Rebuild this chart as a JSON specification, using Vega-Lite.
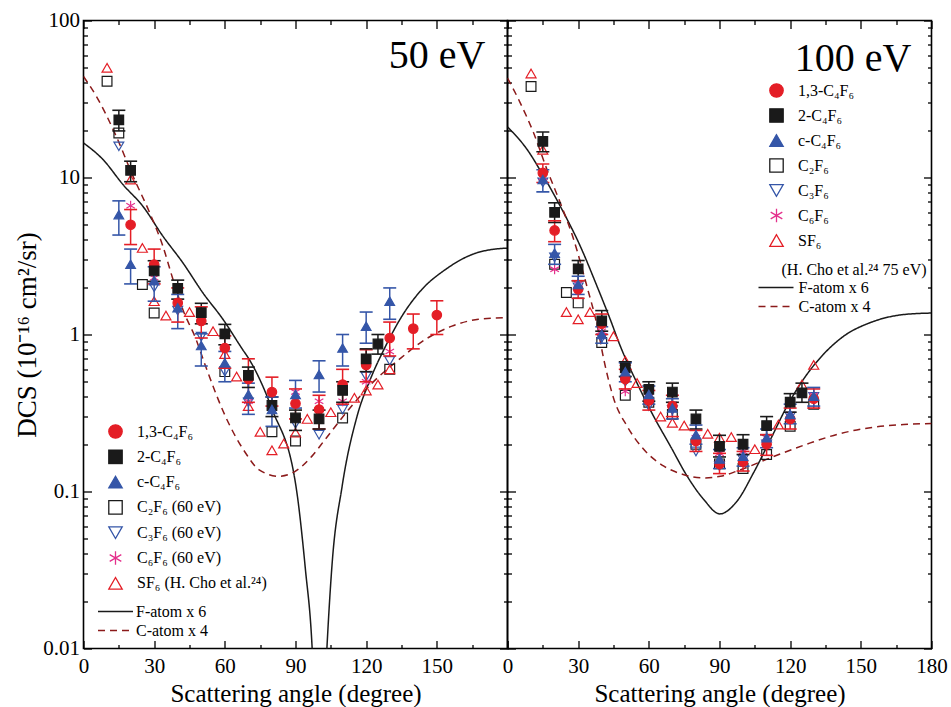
{
"$schema": "https://vega.github.io/schema/vega-lite/v6.json",
"padding": {"left": 12.5, "top": 8.5, "right": 5, "bottom": 0},
"background": "white",
"bounds": "flush",
"spacing": 0,
"datasets": {
"pts": [
{"p":"50","s":"C2F6","a":10,"v":41},{"p":"50","s":"C2F6","a":15,"v":19.2},{"p":"50","s":"C2F6","a":25,"v":2.08},{"p":"50","s":"C2F6","a":30,"v":1.37},{"p":"50","s":"C2F6","a":60,"v":0.58},{"p":"50","s":"C2F6","a":80,"v":0.24},{"p":"50","s":"C2F6","a":90,"v":0.21},{"p":"50","s":"C2F6","a":110,"v":0.294},{"p":"50","s":"C2F6","a":130,"v":0.6},
{"p":"50","s":"C3F6","a":15,"v":15.8},{"p":"50","s":"C3F6","a":30,"v":2.0},{"p":"50","s":"C3F6","a":40,"v":1.42},{"p":"50","s":"C3F6","a":50,"v":0.97},{"p":"50","s":"C3F6","a":60,"v":0.58},{"p":"50","s":"C3F6","a":70,"v":0.37},{"p":"50","s":"C3F6","a":90,"v":0.27},{"p":"50","s":"C3F6","a":100,"v":0.23},{"p":"50","s":"C3F6","a":110,"v":0.333},{"p":"50","s":"C3F6","a":120,"v":0.54},{"p":"50","s":"C3F6","a":130,"v":0.68},
{"p":"50","s":"C6F6","a":20,"v":6.6},{"p":"50","s":"C6F6","a":30,"v":2.3},{"p":"50","s":"C6F6","a":40,"v":1.9},{"p":"50","s":"C6F6","a":60,"v":0.82},{"p":"50","s":"C6F6","a":70,"v":0.376},{"p":"50","s":"C6F6","a":90,"v":0.43},{"p":"50","s":"C6F6","a":100,"v":0.376},{"p":"50","s":"C6F6","a":110,"v":0.376},{"p":"50","s":"C6F6","a":120,"v":0.5},{"p":"50","s":"C6F6","a":130,"v":0.78},
{"p":"50","s":"SF6","a":10,"v":50},{"p":"50","s":"SF6","a":20,"v":9.7},{"p":"50","s":"SF6","a":25,"v":3.56},{"p":"50","s":"SF6","a":30,"v":1.63},{"p":"50","s":"SF6","a":35,"v":1.32},{"p":"50","s":"SF6","a":45,"v":1.39},{"p":"50","s":"SF6","a":55,"v":1.05},{"p":"50","s":"SF6","a":60,"v":0.75},{"p":"50","s":"SF6","a":65,"v":0.54},{"p":"50","s":"SF6","a":70,"v":0.35},{"p":"50","s":"SF6","a":75,"v":0.24},{"p":"50","s":"SF6","a":80,"v":0.183},{"p":"50","s":"SF6","a":85,"v":0.202},{"p":"50","s":"SF6","a":90,"v":0.237},{"p":"50","s":"SF6","a":95,"v":0.29},{"p":"50","s":"SF6","a":105,"v":0.32},{"p":"50","s":"SF6","a":115,"v":0.395},{"p":"50","s":"SF6","a":120,"v":0.44},{"p":"50","s":"SF6","a":125,"v":0.48},{"p":"50","s":"SF6","a":130,"v":0.6},
{"p":"50","s":"1,3-C4F6","a":20,"v":5.0,"lo":3.74,"hi":6.25},{"p":"50","s":"1,3-C4F6","a":30,"v":2.79,"lo":2.1,"hi":3.5},{"p":"50","s":"1,3-C4F6","a":40,"v":1.59,"lo":1.2,"hi":1.98},{"p":"50","s":"1,3-C4F6","a":50,"v":1.22,"lo":0.95,"hi":1.5},{"p":"50","s":"1,3-C4F6","a":60,"v":0.82,"lo":0.61,"hi":0.98},{"p":"50","s":"1,3-C4F6","a":70,"v":0.52,"lo":0.37,"hi":0.7},{"p":"50","s":"1,3-C4F6","a":80,"v":0.43,"lo":0.35,"hi":0.535},{"p":"50","s":"1,3-C4F6","a":90,"v":0.364,"lo":0.29,"hi":0.45},{"p":"50","s":"1,3-C4F6","a":100,"v":0.333,"lo":0.25,"hi":0.41},{"p":"50","s":"1,3-C4F6","a":110,"v":0.48,"lo":0.36,"hi":0.6},{"p":"50","s":"1,3-C4F6","a":120,"v":0.64,"lo":0.5,"hi":0.8},{"p":"50","s":"1,3-C4F6","a":130,"v":0.95,"lo":0.73,"hi":1.2},{"p":"50","s":"1,3-C4F6","a":140,"v":1.09,"lo":0.81,"hi":1.35},{"p":"50","s":"1,3-C4F6","a":150,"v":1.33,"lo":1.0,"hi":1.64},
{"p":"50","s":"2-C4F6","a":15,"v":23.3,"lo":19.8,"hi":26.8},{"p":"50","s":"2-C4F6","a":20,"v":11.1,"lo":9.4,"hi":12.7},{"p":"50","s":"2-C4F6","a":30,"v":2.54,"lo":2.18,"hi":2.95},{"p":"50","s":"2-C4F6","a":40,"v":1.97,"lo":1.68,"hi":2.22},{"p":"50","s":"2-C4F6","a":50,"v":1.38,"lo":1.17,"hi":1.58},{"p":"50","s":"2-C4F6","a":60,"v":1.01,"lo":0.86,"hi":1.16},{"p":"50","s":"2-C4F6","a":70,"v":0.55,"lo":0.46,"hi":0.62},{"p":"50","s":"2-C4F6","a":80,"v":0.353,"lo":0.3,"hi":0.4},{"p":"50","s":"2-C4F6","a":90,"v":0.294,"lo":0.245,"hi":0.33},{"p":"50","s":"2-C4F6","a":100,"v":0.29,"lo":0.25,"hi":0.33},{"p":"50","s":"2-C4F6","a":110,"v":0.44,"lo":0.37,"hi":0.5},{"p":"50","s":"2-C4F6","a":120,"v":0.7,"lo":0.58,"hi":0.81},{"p":"50","s":"2-C4F6","a":125,"v":0.87,"lo":0.75,"hi":1.0},
{"p":"50","s":"c-C4F6","a":15,"v":5.8,"lo":4.3,"hi":7.1},{"p":"50","s":"c-C4F6","a":20,"v":2.8,"lo":2.1,"hi":3.5},{"p":"50","s":"c-C4F6","a":30,"v":2.2,"lo":1.63,"hi":2.7},{"p":"50","s":"c-C4F6","a":40,"v":1.48,"lo":1.09,"hi":1.8},{"p":"50","s":"c-C4F6","a":50,"v":0.85,"lo":0.63,"hi":1.01},{"p":"50","s":"c-C4F6","a":60,"v":0.66,"lo":0.5,"hi":0.78},{"p":"50","s":"c-C4F6","a":70,"v":0.415,"lo":0.31,"hi":0.49},{"p":"50","s":"c-C4F6","a":80,"v":0.333,"lo":0.26,"hi":0.4},{"p":"50","s":"c-C4F6","a":90,"v":0.415,"lo":0.34,"hi":0.51},{"p":"50","s":"c-C4F6","a":100,"v":0.556,"lo":0.43,"hi":0.68},{"p":"50","s":"c-C4F6","a":110,"v":0.82,"lo":0.63,"hi":1.0},{"p":"50","s":"c-C4F6","a":120,"v":1.13,"lo":0.88,"hi":1.39},{"p":"50","s":"c-C4F6","a":130,"v":1.63,"lo":1.25,"hi":1.98},
{"p":"100","s":"C2F6","a":10,"v":38},{"p":"100","s":"C2F6","a":20,"v":2.8},{"p":"100","s":"C2F6","a":25,"v":1.85},{"p":"100","s":"C2F6","a":30,"v":1.59},{"p":"100","s":"C2F6","a":40,"v":0.89},{"p":"100","s":"C2F6","a":50,"v":0.41},{"p":"100","s":"C2F6","a":60,"v":0.37},{"p":"100","s":"C2F6","a":70,"v":0.31},{"p":"100","s":"C2F6","a":80,"v":0.2},{"p":"100","s":"C2F6","a":90,"v":0.15},{"p":"100","s":"C2F6","a":100,"v":0.14},{"p":"100","s":"C2F6","a":110,"v":0.172},{"p":"100","s":"C2F6","a":120,"v":0.26},{"p":"100","s":"C2F6","a":130,"v":0.36},
{"p":"100","s":"C3F6","a":15,"v":9.3},{"p":"100","s":"C3F6","a":20,"v":3.1},{"p":"100","s":"C3F6","a":30,"v":2.0},{"p":"100","s":"C3F6","a":40,"v":0.95},{"p":"100","s":"C3F6","a":50,"v":0.5},{"p":"100","s":"C3F6","a":60,"v":0.35},{"p":"100","s":"C3F6","a":70,"v":0.33},{"p":"100","s":"C3F6","a":80,"v":0.18},{"p":"100","s":"C3F6","a":90,"v":0.145},{"p":"100","s":"C3F6","a":100,"v":0.16},{"p":"100","s":"C3F6","a":110,"v":0.2},{"p":"100","s":"C3F6","a":120,"v":0.3},{"p":"100","s":"C3F6","a":130,"v":0.4},
{"p":"100","s":"C6F6","a":15,"v":10},{"p":"100","s":"C6F6","a":20,"v":2.6},{"p":"100","s":"C6F6","a":30,"v":2.1},{"p":"100","s":"C6F6","a":40,"v":1.05},{"p":"100","s":"C6F6","a":50,"v":0.435},{"p":"100","s":"C6F6","a":60,"v":0.4},{"p":"100","s":"C6F6","a":70,"v":0.36},{"p":"100","s":"C6F6","a":80,"v":0.22},{"p":"100","s":"C6F6","a":90,"v":0.175},{"p":"100","s":"C6F6","a":100,"v":0.18},{"p":"100","s":"C6F6","a":110,"v":0.22},{"p":"100","s":"C6F6","a":120,"v":0.31},{"p":"100","s":"C6F6","a":130,"v":0.41},
{"p":"100","s":"SF6","a":10,"v":46},{"p":"100","s":"SF6","a":15,"v":15},{"p":"100","s":"SF6","a":25,"v":1.39},{"p":"100","s":"SF6","a":30,"v":1.25},{"p":"100","s":"SF6","a":35,"v":1.39},{"p":"100","s":"SF6","a":45,"v":0.975},{"p":"100","s":"SF6","a":50,"v":0.68},{"p":"100","s":"SF6","a":55,"v":0.49},{"p":"100","s":"SF6","a":65,"v":0.3},{"p":"100","s":"SF6","a":70,"v":0.274},{"p":"100","s":"SF6","a":75,"v":0.263},{"p":"100","s":"SF6","a":85,"v":0.233},{"p":"100","s":"SF6","a":90,"v":0.22},{"p":"100","s":"SF6","a":95,"v":0.222},{"p":"100","s":"SF6","a":105,"v":0.186},{"p":"100","s":"SF6","a":115,"v":0.267},{"p":"100","s":"SF6","a":125,"v":0.48},{"p":"100","s":"SF6","a":130,"v":0.64},
{"p":"100","s":"1,3-C4F6","a":15,"v":10.7,"lo":9.3,"hi":12.2},{"p":"100","s":"1,3-C4F6","a":20,"v":4.6,"lo":3.9,"hi":5.3},{"p":"100","s":"1,3-C4F6","a":30,"v":1.94,"lo":1.7,"hi":2.2},{"p":"100","s":"1,3-C4F6","a":40,"v":1.17,"lo":1.0,"hi":1.35},{"p":"100","s":"1,3-C4F6","a":50,"v":0.52,"lo":0.45,"hi":0.6},{"p":"100","s":"1,3-C4F6","a":60,"v":0.38,"lo":0.33,"hi":0.44},{"p":"100","s":"1,3-C4F6","a":70,"v":0.35,"lo":0.3,"hi":0.41},{"p":"100","s":"1,3-C4F6","a":80,"v":0.21,"lo":0.18,"hi":0.245},{"p":"100","s":"1,3-C4F6","a":90,"v":0.15,"lo":0.13,"hi":0.175},{"p":"100","s":"1,3-C4F6","a":100,"v":0.155,"lo":0.135,"hi":0.18},{"p":"100","s":"1,3-C4F6","a":110,"v":0.2,"lo":0.17,"hi":0.23},{"p":"100","s":"1,3-C4F6","a":120,"v":0.29,"lo":0.25,"hi":0.34},{"p":"100","s":"1,3-C4F6","a":130,"v":0.39,"lo":0.34,"hi":0.45},
{"p":"100","s":"2-C4F6","a":15,"v":17.0,"lo":14.6,"hi":19.5},{"p":"100","s":"2-C4F6","a":20,"v":6.0,"lo":5.17,"hi":6.9},{"p":"100","s":"2-C4F6","a":30,"v":2.62,"lo":2.2,"hi":2.96},{"p":"100","s":"2-C4F6","a":40,"v":1.22,"lo":1.05,"hi":1.42},{"p":"100","s":"2-C4F6","a":50,"v":0.614,"lo":0.54,"hi":0.67},{"p":"100","s":"2-C4F6","a":60,"v":0.447,"lo":0.376,"hi":0.5},{"p":"100","s":"2-C4F6","a":70,"v":0.43,"lo":0.37,"hi":0.49},{"p":"100","s":"2-C4F6","a":80,"v":0.29,"lo":0.25,"hi":0.33},{"p":"100","s":"2-C4F6","a":90,"v":0.194,"lo":0.166,"hi":0.228},{"p":"100","s":"2-C4F6","a":100,"v":0.2,"lo":0.172,"hi":0.23},{"p":"100","s":"2-C4F6","a":110,"v":0.263,"lo":0.23,"hi":0.3},{"p":"100","s":"2-C4F6","a":120,"v":0.371,"lo":0.32,"hi":0.42},{"p":"100","s":"2-C4F6","a":125,"v":0.425,"lo":0.37,"hi":0.49},
{"p":"100","s":"c-C4F6","a":15,"v":9.7,"lo":8.1,"hi":11.2},{"p":"100","s":"c-C4F6","a":20,"v":3.3,"lo":2.8,"hi":3.75},{"p":"100","s":"c-C4F6","a":30,"v":2.08,"lo":1.8,"hi":2.35},{"p":"100","s":"c-C4F6","a":40,"v":1.0,"lo":0.88,"hi":1.12},{"p":"100","s":"c-C4F6","a":50,"v":0.58,"lo":0.5,"hi":0.66},{"p":"100","s":"c-C4F6","a":60,"v":0.415,"lo":0.36,"hi":0.47},{"p":"100","s":"c-C4F6","a":70,"v":0.34,"lo":0.29,"hi":0.39},{"p":"100","s":"c-C4F6","a":80,"v":0.23,"lo":0.2,"hi":0.265},{"p":"100","s":"c-C4F6","a":90,"v":0.161,"lo":0.14,"hi":0.185},{"p":"100","s":"c-C4F6","a":100,"v":0.168,"lo":0.145,"hi":0.19},{"p":"100","s":"c-C4F6","a":110,"v":0.22,"lo":0.19,"hi":0.25},{"p":"100","s":"c-C4F6","a":120,"v":0.31,"lo":0.27,"hi":0.36},{"p":"100","s":"c-C4F6","a":130,"v":0.405,"lo":0.35,"hi":0.46}
],
"lines": [
{"p":"50","c":"F-atom x 6","a":0,"v":16.6},{"p":"50","c":"F-atom x 6","a":8.3,"v":13.0},{"p":"50","c":"F-atom x 6","a":16.8,"v":9.0},{"p":"50","c":"F-atom x 6","a":25.2,"v":6.56},{"p":"50","c":"F-atom x 6","a":33.7,"v":4.23},{"p":"50","c":"F-atom x 6","a":42.2,"v":2.86},{"p":"50","c":"F-atom x 6","a":50.7,"v":1.84},{"p":"50","c":"F-atom x 6","a":59.2,"v":1.25},{"p":"50","c":"F-atom x 6","a":67.6,"v":0.8},{"p":"50","c":"F-atom x 6","a":70.2,"v":0.7},{"p":"50","c":"F-atom x 6","a":80.1,"v":0.333},{"p":"50","c":"F-atom x 6","a":90.2,"v":0.108},{"p":"50","c":"F-atom x 6","a":94.2,"v":0.032},{"p":"50","c":"F-atom x 6","a":97,"v":0.0105},{"p":"50","c":"F-atom x 6","a":99,"v":0.002},{"p":"50","c":"F-atom x 6","a":101.2,"v":0.002},{"p":"50","c":"F-atom x 6","a":103.4,"v":0.0105},{"p":"50","c":"F-atom x 6","a":105.5,"v":0.034},{"p":"50","c":"F-atom x 6","a":109.8,"v":0.108},{"p":"50","c":"F-atom x 6","a":116.1,"v":0.3},{"p":"50","c":"F-atom x 6","a":121.8,"v":0.52},{"p":"50","c":"F-atom x 6","a":128.2,"v":0.84},{"p":"50","c":"F-atom x 6","a":135.2,"v":1.31},{"p":"50","c":"F-atom x 6","a":143.7,"v":1.94},{"p":"50","c":"F-atom x 6","a":153.6,"v":2.59},{"p":"50","c":"F-atom x 6","a":164.9,"v":3.23},{"p":"50","c":"F-atom x 6","a":176.2,"v":3.52},{"p":"50","c":"F-atom x 6","a":180,"v":3.55},
{"p":"50","c":"C-atom x 4","a":0,"v":44},{"p":"50","c":"C-atom x 4","a":5.4,"v":33},{"p":"50","c":"C-atom x 4","a":13.9,"v":18.3},{"p":"50","c":"C-atom x 4","a":21,"v":10.2},{"p":"50","c":"C-atom x 4","a":28.1,"v":5.96},{"p":"50","c":"C-atom x 4","a":33.7,"v":3.65},{"p":"50","c":"C-atom x 4","a":38,"v":2.24},{"p":"50","c":"C-atom x 4","a":42.2,"v":1.44},{"p":"50","c":"C-atom x 4","a":47.8,"v":0.93},{"p":"50","c":"C-atom x 4","a":51.8,"v":0.63},{"p":"50","c":"C-atom x 4","a":60.3,"v":0.3},{"p":"50","c":"C-atom x 4","a":68.8,"v":0.176},{"p":"50","c":"C-atom x 4","a":74.4,"v":0.138},{"p":"50","c":"C-atom x 4","a":82.9,"v":0.125},{"p":"50","c":"C-atom x 4","a":88.6,"v":0.131},{"p":"50","c":"C-atom x 4","a":97,"v":0.168},{"p":"50","c":"C-atom x 4","a":102,"v":0.209},{"p":"50","c":"C-atom x 4","a":112.6,"v":0.333},{"p":"50","c":"C-atom x 4","a":122.5,"v":0.49},{"p":"50","c":"C-atom x 4","a":133.8,"v":0.69},{"p":"50","c":"C-atom x 4","a":145.1,"v":0.93},{"p":"50","c":"C-atom x 4","a":156.4,"v":1.13},{"p":"50","c":"C-atom x 4","a":167.7,"v":1.25},{"p":"50","c":"C-atom x 4","a":180,"v":1.28},
{"p":"100","c":"F-atom x 6","a":0,"v":21},{"p":"100","c":"F-atom x 6","a":8.3,"v":15.1},{"p":"100","c":"F-atom x 6","a":15.3,"v":10.2},{"p":"100","c":"F-atom x 6","a":22.4,"v":6.56},{"p":"100","c":"F-atom x 6","a":30.9,"v":3.65},{"p":"100","c":"F-atom x 6","a":38,"v":2.03},{"p":"100","c":"F-atom x 6","a":43.6,"v":1.25},{"p":"100","c":"F-atom x 6","a":47.8,"v":0.85},{"p":"100","c":"F-atom x 6","a":55,"v":0.49},{"p":"100","c":"F-atom x 6","a":62.1,"v":0.3},{"p":"100","c":"F-atom x 6","a":69.2,"v":0.194},{"p":"100","c":"F-atom x 6","a":76.3,"v":0.125},{"p":"100","c":"F-atom x 6","a":83.3,"v":0.089},{"p":"100","c":"F-atom x 6","a":90.1,"v":0.072},{"p":"100","c":"F-atom x 6","a":97.5,"v":0.087},{"p":"100","c":"F-atom x 6","a":104.5,"v":0.132},{"p":"100","c":"F-atom x 6","a":111.6,"v":0.214},{"p":"100","c":"F-atom x 6","a":118.7,"v":0.35},{"p":"100","c":"F-atom x 6","a":125.7,"v":0.52},{"p":"100","c":"F-atom x 6","a":134.2,"v":0.75},{"p":"100","c":"F-atom x 6","a":142.7,"v":0.975},{"p":"100","c":"F-atom x 6","a":154,"v":1.19},{"p":"100","c":"F-atom x 6","a":168.2,"v":1.34},{"p":"100","c":"F-atom x 6","a":180,"v":1.37},
{"p":"100","c":"C-atom x 4","a":0,"v":43},{"p":"100","c":"C-atom x 4","a":5.4,"v":29.9},{"p":"100","c":"C-atom x 4","a":11.1,"v":19.2},{"p":"100","c":"C-atom x 4","a":16.8,"v":11.2},{"p":"100","c":"C-atom x 4","a":22.4,"v":6.9},{"p":"100","c":"C-atom x 4","a":28.1,"v":4.03},{"p":"100","c":"C-atom x 4","a":33.7,"v":2.03},{"p":"100","c":"C-atom x 4","a":38,"v":1.15},{"p":"100","c":"C-atom x 4","a":41,"v":0.68},{"p":"100","c":"C-atom x 4","a":45.2,"v":0.386},{"p":"100","c":"C-atom x 4","a":50.8,"v":0.26},{"p":"100","c":"C-atom x 4","a":57.9,"v":0.185},{"p":"100","c":"C-atom x 4","a":66.4,"v":0.145},{"p":"100","c":"C-atom x 4","a":74.9,"v":0.128},{"p":"100","c":"C-atom x 4","a":83.3,"v":0.122},{"p":"100","c":"C-atom x 4","a":90.4,"v":0.125},{"p":"100","c":"C-atom x 4","a":97.5,"v":0.135},{"p":"100","c":"C-atom x 4","a":111.6,"v":0.164},{"p":"100","c":"C-atom x 4","a":128.6,"v":0.204},{"p":"100","c":"C-atom x 4","a":139.9,"v":0.231},{"p":"100","c":"C-atom x 4","a":154,"v":0.255},{"p":"100","c":"C-atom x 4","a":168.2,"v":0.267},{"p":"100","c":"C-atom x 4","a":180,"v":0.271}
]
},
"hconcat": [
{
"width": 424, "height": 628,
"title": {"text": "50 eV", "anchor": "end", "frame": "group", "offset": -98.5, "baseline": "alphabetic", "fontSize": 40, "dx": -22},
"layer": [
{"data": {"name": "lines"}, "transform": [{"filter": "datum.p == '50'"}],
 "mark": {"type": "line", "clip": true, "interpolate": "monotone", "strokeWidth": 1.5},
 "encoding": {
  "x": {"field": "a", "type": "quantitative", "scale": {"domain": [0, 180], "nice": false, "zero": false},
        "axis": {"orient": "bottom", "values": [0,15,30,45,60,75,90,105,120,135,150,165,180], "labelExpr": "datum.value % 30 === 0 && datum.value < 180 ? datum.label : ''", "tickSize": {"condition": {"test": "datum.value % 30 === 0", "value": -8}, "value": -4}, "labelPadding": 15, "title": "Scattering angle (degree)", "titlePadding": 1}},
  "y": {"field": "v", "type": "quantitative", "scale": {"type": "log", "domain": [0.01, 100], "nice": false},
        "axis": {"orient": "left", "values": [0.01,0.02,0.03,0.04,0.05,0.06,0.07,0.08,0.09,0.1,0.2,0.3,0.4,0.5,0.6,0.7,0.8,0.9,1,2,3,4,5,6,7,8,9,10,20,30,40,50,60,70,80,90,100], "labelExpr": "abs(log(datum.value)/LN10 - round(log(datum.value)/LN10)) < 0.001 ? format(datum.value, '~g') : ''", "tickSize": {"condition": {"test": "abs(log(datum.value)/LN10 - round(log(datum.value)/LN10)) < 0.001", "value": -8}, "value": -4}, "labelPadding": 12, "title": "DCS (10⁻¹⁶ cm²/sr)", "titleFontSize": 27, "titlePadding": 1}},
  "color": {"field": "c", "type": "nominal", "scale": {"domain": ["F-atom x 6", "C-atom x 4"], "range": ["#1a1a1a", "#8b1a1a"]},
            "legend": {"title": null, "orient": "none", "legendX": 13.5, "legendY": 583, "symbolType": "stroke", "symbolSize": 1225, "symbolStrokeWidth": 1.5, "clipHeight": 16, "rowPadding": 3, "labelOffset": 2, "labelFontSize": 16, "padding": 0}},
  "strokeDash": {"field": "c", "type": "nominal", "scale": {"domain": ["F-atom x 6", "C-atom x 4"], "range": [[1, 0], [7, 5]]},
            "legend": {"title": null, "orient": "none", "legendX": 13.5, "legendY": 583, "symbolType": "stroke", "symbolSize": 1225, "symbolStrokeWidth": 1.5, "clipHeight": 16, "rowPadding": 3, "labelOffset": 2, "labelFontSize": 16, "padding": 0}}
 }},
{"data": {"name": "pts"}, "transform": [{"filter": "datum.p == '50' && (datum.s == 'C2F6' || datum.s == 'C3F6' || datum.s == 'C6F6' || datum.s == 'SF6')"}],
 "mark": {"type": "point", "opacity": 1, "strokeWidth": 1.2},
 "encoding": {
  "x": {"field": "a", "type": "quantitative", "scale": {"domain": [0, 180], "nice": false, "zero": false},
        "axis": {"orient": "top", "values": [0,15,30,45,60,75,90,105,120,135,150,165,180], "labels": false, "title": null, "tickSize": {"condition": {"test": "datum.value % 30 === 0", "value": -8}, "value": -4}}},
  "y": {"field": "v", "type": "quantitative", "scale": {"type": "log", "domain": [0.01, 100], "nice": false},
        "axis": {"orient": "right", "values": [0.01,0.02,0.03,0.04,0.05,0.06,0.07,0.08,0.09,0.1,0.2,0.3,0.4,0.5,0.6,0.7,0.8,0.9,1,2,3,4,5,6,7,8,9,10,20,30,40,50,60,70,80,90,100], "labels": false, "title": null, "tickSize": {"condition": {"test": "abs(log(datum.value)/LN10 - round(log(datum.value)/LN10)) < 0.001", "value": -8}, "value": -4}}},
  "shape": {"field": "s", "type": "nominal", "scale": {"domain": ["1,3-C4F6","2-C4F6","c-C4F6","C2F6","C3F6","C6F6","SF6"], "range": ["circle","square","triangle-up","square","triangle-down","M0,-1L0,1M-0.866,-0.5L0.866,0.5M-0.866,0.5L0.866,-0.5","triangle-up"]},
            "legend": {"title": null, "orient": "none", "legendX": 24, "legendY": 403, "symbolSize": 180, "symbolStrokeWidth": 1.3, "clipHeight": 16, "rowPadding": 9.3, "labelOffset": 13.5, "labelFontSize": 16, "padding": 0, "labelExpr": "datum.value == '1,3-C4F6' ? '1,3-C₄F₆' : datum.value == '2-C4F6' ? ' 2-C₄F₆' : datum.value == 'c-C4F6' ? 'c-C₄F₆' : datum.value == 'C2F6' ? 'C₂F₆ (60 eV)' : datum.value == 'C3F6' ? 'C₃F₆ (60 eV)' : datum.value == 'C6F6' ? 'C₆F₆ (60 eV)' : 'SF₆ (H. Cho et al.²⁴)'"}},
  "fill": {"field": "s", "type": "nominal", "scale": {"domain": ["1,3-C4F6","2-C4F6","c-C4F6","C2F6","C3F6","C6F6","SF6"], "range": ["#e41e26","#1a1a1a","#3556a8","transparent","transparent","transparent","transparent"]},
            "legend": {"title": null, "orient": "none", "legendX": 24, "legendY": 403, "symbolSize": 180, "symbolStrokeWidth": 1.3, "clipHeight": 16, "rowPadding": 9.3, "labelOffset": 13.5, "labelFontSize": 16, "padding": 0, "labelExpr": "datum.value == '1,3-C4F6' ? '1,3-C₄F₆' : datum.value == '2-C4F6' ? ' 2-C₄F₆' : datum.value == 'c-C4F6' ? 'c-C₄F₆' : datum.value == 'C2F6' ? 'C₂F₆ (60 eV)' : datum.value == 'C3F6' ? 'C₃F₆ (60 eV)' : datum.value == 'C6F6' ? 'C₆F₆ (60 eV)' : 'SF₆ (H. Cho et al.²⁴)'"}},
  "stroke": {"field": "s", "type": "nominal", "scale": {"domain": ["1,3-C4F6","2-C4F6","c-C4F6","C2F6","C3F6","C6F6","SF6"], "range": ["#e41e26","#1a1a1a","#3556a8","#1a1a1a","#3556a8","#e4308c","#e41e26"]},
            "legend": {"title": null, "orient": "none", "legendX": 24, "legendY": 403, "symbolSize": 180, "symbolStrokeWidth": 1.3, "clipHeight": 16, "rowPadding": 9.3, "labelOffset": 13.5, "labelFontSize": 16, "padding": 0, "labelExpr": "datum.value == '1,3-C4F6' ? '1,3-C₄F₆' : datum.value == '2-C4F6' ? ' 2-C₄F₆' : datum.value == 'c-C4F6' ? 'c-C₄F₆' : datum.value == 'C2F6' ? 'C₂F₆ (60 eV)' : datum.value == 'C3F6' ? 'C₃F₆ (60 eV)' : datum.value == 'C6F6' ? 'C₆F₆ (60 eV)' : 'SF₆ (H. Cho et al.²⁴)'"}},
  "size": {"field": "s", "type": "nominal", "scale": {"domain": ["SF6","C6F6","C3F6","C2F6","c-C4F6","2-C4F6","1,3-C4F6"], "range": [100,90,80,50,140,100,120]}, "legend": null}
 }},
{"data": {"name": "pts"}, "transform": [{"filter": "datum.p == '50' && isValid(datum.lo)"}],
 "mark": {"type": "rule", "strokeWidth": 1.5},
 "encoding": {
  "x": {"field": "a", "type": "quantitative", "axis": null},
  "y": {"field": "lo", "type": "quantitative", "axis": null},
  "y2": {"field": "hi"},
  "stroke": {"field": "s", "type": "nominal"}
 }},
{"data": {"name": "pts"}, "transform": [{"filter": "datum.p == '50' && isValid(datum.lo)"}],
 "mark": {"type": "tick", "orient": "horizontal", "size": 13, "thickness": 1.6, "opacity": 1},
 "encoding": {
  "x": {"field": "a", "type": "quantitative", "axis": null},
  "y": {"field": "lo", "type": "quantitative", "axis": null},
  "fill": {"field": "s", "type": "nominal"}
 }},
{"data": {"name": "pts"}, "transform": [{"filter": "datum.p == '50' && isValid(datum.lo)"}],
 "mark": {"type": "tick", "orient": "horizontal", "size": 13, "thickness": 1.6, "opacity": 1},
 "encoding": {
  "x": {"field": "a", "type": "quantitative", "axis": null},
  "y": {"field": "hi", "type": "quantitative", "axis": null},
  "fill": {"field": "s", "type": "nominal"}
 }},
{"data": {"name": "pts"}, "transform": [{"filter": "datum.p == '50' && isValid(datum.lo)"}],
 "mark": {"type": "point", "opacity": 1, "strokeWidth": 1.2},
 "encoding": {
  "x": {"field": "a", "type": "quantitative", "axis": null},
  "y": {"field": "v", "type": "quantitative", "axis": null},
  "shape": {"field": "s", "type": "nominal"},
  "fill": {"field": "s", "type": "nominal"},
  "stroke": {"field": "s", "type": "nominal"},
  "size": {"field": "s", "type": "nominal", "legend": null}
 }}
],
"resolve": {"axis": {"x": "independent", "y": "independent"}}
},
{
"width": 424, "height": 628,
"title": {"text": "100 eV", "anchor": "end", "frame": "group", "offset": -91.5, "baseline": "alphabetic", "fontSize": 40, "dx": -20},
"layer": [
{"data": {"name": "lines"}, "transform": [{"filter": "datum.p == '100'"}],
 "mark": {"type": "line", "clip": true, "interpolate": "monotone", "strokeWidth": 1.5},
 "encoding": {
  "x": {"field": "a", "type": "quantitative", "scale": {"domain": [0, 180], "nice": false, "zero": false},
        "axis": {"orient": "bottom", "values": [0,15,30,45,60,75,90,105,120,135,150,165,180], "labelExpr": "datum.value % 30 === 0 ? datum.label : ''", "tickSize": {"condition": {"test": "datum.value % 30 === 0", "value": -8}, "value": -4}, "labelPadding": 15, "title": "Scattering angle (degree)", "titlePadding": 1}},
  "y": {"field": "v", "type": "quantitative", "scale": {"type": "log", "domain": [0.01, 100], "nice": false},
        "axis": {"orient": "left", "values": [0.01,0.02,0.03,0.04,0.05,0.06,0.07,0.08,0.09,0.1,0.2,0.3,0.4,0.5,0.6,0.7,0.8,0.9,1,2,3,4,5,6,7,8,9,10,20,30,40,50,60,70,80,90,100], "labels": false, "title": null, "tickSize": {"condition": {"test": "abs(log(datum.value)/LN10 - round(log(datum.value)/LN10)) < 0.001", "value": -8}, "value": -4}}},
  "color": {"field": "c", "type": "nominal", "scale": {"domain": ["F-atom x 6", "C-atom x 4"], "range": ["#1a1a1a", "#8b1a1a"]},
            "legend": {"title": "(H. Cho et al.²⁴ 75 eV)", "titleFontSize": 16, "titleFontWeight": "normal", "titlePadding": 2, "orient": "none", "legendX": 250, "legendY": 241, "symbolType": "stroke", "symbolSize": 1225, "symbolStrokeWidth": 1.5, "clipHeight": 16, "rowPadding": 3, "labelOffset": 4, "labelFontSize": 16, "padding": 0, "encode": {"title": {"update": {"dx": {"value": 24}}}}}},
  "strokeDash": {"field": "c", "type": "nominal", "scale": {"domain": ["F-atom x 6", "C-atom x 4"], "range": [[1, 0], [7, 5]]},
            "legend": {"title": "(H. Cho et al.²⁴ 75 eV)", "titleFontSize": 16, "titleFontWeight": "normal", "titlePadding": 2, "orient": "none", "legendX": 250, "legendY": 241, "symbolType": "stroke", "symbolSize": 1225, "symbolStrokeWidth": 1.5, "clipHeight": 16, "rowPadding": 3, "labelOffset": 4, "labelFontSize": 16, "padding": 0, "encode": {"title": {"update": {"dx": {"value": 24}}}}}}
 }},
{"data": {"name": "pts"}, "transform": [{"filter": "datum.p == '100' && (datum.s == 'C2F6' || datum.s == 'C3F6' || datum.s == 'C6F6' || datum.s == 'SF6')"}],
 "mark": {"type": "point", "opacity": 1, "strokeWidth": 1.2},
 "encoding": {
  "x": {"field": "a", "type": "quantitative", "scale": {"domain": [0, 180], "nice": false, "zero": false},
        "axis": {"orient": "top", "values": [0,15,30,45,60,75,90,105,120,135,150,165,180], "labels": false, "title": null, "tickSize": {"condition": {"test": "datum.value % 30 === 0", "value": -8}, "value": -4}}},
  "y": {"field": "v", "type": "quantitative", "scale": {"type": "log", "domain": [0.01, 100], "nice": false},
        "axis": {"orient": "right", "values": [0.01,0.02,0.03,0.04,0.05,0.06,0.07,0.08,0.09,0.1,0.2,0.3,0.4,0.5,0.6,0.7,0.8,0.9,1,2,3,4,5,6,7,8,9,10,20,30,40,50,60,70,80,90,100], "labels": false, "title": null, "tickSize": {"condition": {"test": "abs(log(datum.value)/LN10 - round(log(datum.value)/LN10)) < 0.001", "value": -8}, "value": -4}}},
  "shape": {"field": "s", "type": "nominal", "scale": {"domain": ["1,3-C4F6","2-C4F6","c-C4F6","C2F6","C3F6","C6F6","SF6"], "range": ["circle","square","triangle-up","square","triangle-down","M0,-1L0,1M-0.866,-0.5L0.866,0.5M-0.866,0.5L0.866,-0.5","triangle-up"]},
            "legend": {"title": null, "orient": "none", "legendX": 261, "legendY": 62, "symbolSize": 180, "symbolStrokeWidth": 1.3, "clipHeight": 16, "rowPadding": 9, "labelOffset": 13.5, "labelFontSize": 16, "padding": 0, "labelExpr": "datum.value == '1,3-C4F6' ? '1,3-C₄F₆' : datum.value == '2-C4F6' ? ' 2-C₄F₆' : datum.value == 'c-C4F6' ? 'c-C₄F₆' : datum.value == 'C2F6' ? 'C₂F₆' : datum.value == 'C3F6' ? 'C₃F₆' : datum.value == 'C6F6' ? 'C₆F₆' : 'SF₆'"}},
  "fill": {"field": "s", "type": "nominal", "scale": {"domain": ["1,3-C4F6","2-C4F6","c-C4F6","C2F6","C3F6","C6F6","SF6"], "range": ["#e41e26","#1a1a1a","#3556a8","transparent","transparent","transparent","transparent"]},
            "legend": {"title": null, "orient": "none", "legendX": 261, "legendY": 62, "symbolSize": 180, "symbolStrokeWidth": 1.3, "clipHeight": 16, "rowPadding": 9, "labelOffset": 13.5, "labelFontSize": 16, "padding": 0, "labelExpr": "datum.value == '1,3-C4F6' ? '1,3-C₄F₆' : datum.value == '2-C4F6' ? ' 2-C₄F₆' : datum.value == 'c-C4F6' ? 'c-C₄F₆' : datum.value == 'C2F6' ? 'C₂F₆' : datum.value == 'C3F6' ? 'C₃F₆' : datum.value == 'C6F6' ? 'C₆F₆' : 'SF₆'"}},
  "stroke": {"field": "s", "type": "nominal", "scale": {"domain": ["1,3-C4F6","2-C4F6","c-C4F6","C2F6","C3F6","C6F6","SF6"], "range": ["#e41e26","#1a1a1a","#3556a8","#1a1a1a","#3556a8","#e4308c","#e41e26"]},
            "legend": {"title": null, "orient": "none", "legendX": 261, "legendY": 62, "symbolSize": 180, "symbolStrokeWidth": 1.3, "clipHeight": 16, "rowPadding": 9, "labelOffset": 13.5, "labelFontSize": 16, "padding": 0, "labelExpr": "datum.value == '1,3-C4F6' ? '1,3-C₄F₆' : datum.value == '2-C4F6' ? ' 2-C₄F₆' : datum.value == 'c-C4F6' ? 'c-C₄F₆' : datum.value == 'C2F6' ? 'C₂F₆' : datum.value == 'C3F6' ? 'C₃F₆' : datum.value == 'C6F6' ? 'C₆F₆' : 'SF₆'"}},
  "size": {"field": "s", "type": "nominal", "scale": {"domain": ["SF6","C6F6","C3F6","C2F6","c-C4F6","2-C4F6","1,3-C4F6"], "range": [100,90,80,50,140,100,120]}, "legend": null}
 }},
{"data": {"name": "pts"}, "transform": [{"filter": "datum.p == '100' && isValid(datum.lo)"}],
 "mark": {"type": "rule", "strokeWidth": 1.5},
 "encoding": {
  "x": {"field": "a", "type": "quantitative", "axis": null},
  "y": {"field": "lo", "type": "quantitative", "axis": null},
  "y2": {"field": "hi"},
  "stroke": {"field": "s", "type": "nominal"}
 }},
{"data": {"name": "pts"}, "transform": [{"filter": "datum.p == '100' && isValid(datum.lo)"}],
 "mark": {"type": "tick", "orient": "horizontal", "size": 13, "thickness": 1.6, "opacity": 1},
 "encoding": {
  "x": {"field": "a", "type": "quantitative", "axis": null},
  "y": {"field": "lo", "type": "quantitative", "axis": null},
  "fill": {"field": "s", "type": "nominal"}
 }},
{"data": {"name": "pts"}, "transform": [{"filter": "datum.p == '100' && isValid(datum.lo)"}],
 "mark": {"type": "tick", "orient": "horizontal", "size": 13, "thickness": 1.6, "opacity": 1},
 "encoding": {
  "x": {"field": "a", "type": "quantitative", "axis": null},
  "y": {"field": "hi", "type": "quantitative", "axis": null},
  "fill": {"field": "s", "type": "nominal"}
 }},
{"data": {"name": "pts"}, "transform": [{"filter": "datum.p == '100' && isValid(datum.lo)"}],
 "mark": {"type": "point", "opacity": 1, "strokeWidth": 1.2},
 "encoding": {
  "x": {"field": "a", "type": "quantitative", "axis": null},
  "y": {"field": "v", "type": "quantitative", "axis": null},
  "shape": {"field": "s", "type": "nominal"},
  "fill": {"field": "s", "type": "nominal"},
  "stroke": {"field": "s", "type": "nominal"},
  "size": {"field": "s", "type": "nominal", "legend": null}
 }}
],
"resolve": {"axis": {"x": "independent", "y": "independent"}}
}
],
"resolve": {"scale": {"x": "independent", "y": "independent", "color": "independent", "strokeDash": "independent", "shape": "independent", "fill": "independent", "stroke": "independent", "size": "independent"}},
"config": {
"font": "Liberation Serif",
"view": {"stroke": "#000", "strokeWidth": 1.6},
"axis": {"domain": false, "grid": false, "tickColor": "#000", "tickWidth": 1.3, "labelColor": "#000", "titleColor": "#000", "labelFont": "Liberation Serif", "titleFont": "Liberation Serif", "labelFontSize": 21, "titleFontSize": 25, "titleFontWeight": "normal", "labelOverlap": false, "labelFlush": false},
"legend": {"labelFont": "Liberation Serif", "labelColor": "#000", "titleFont": "Liberation Serif", "titleColor": "#000", "symbolOpacity": 1},
"title": {"font": "Liberation Serif", "fontWeight": "normal", "color": "#000"}
}
}
